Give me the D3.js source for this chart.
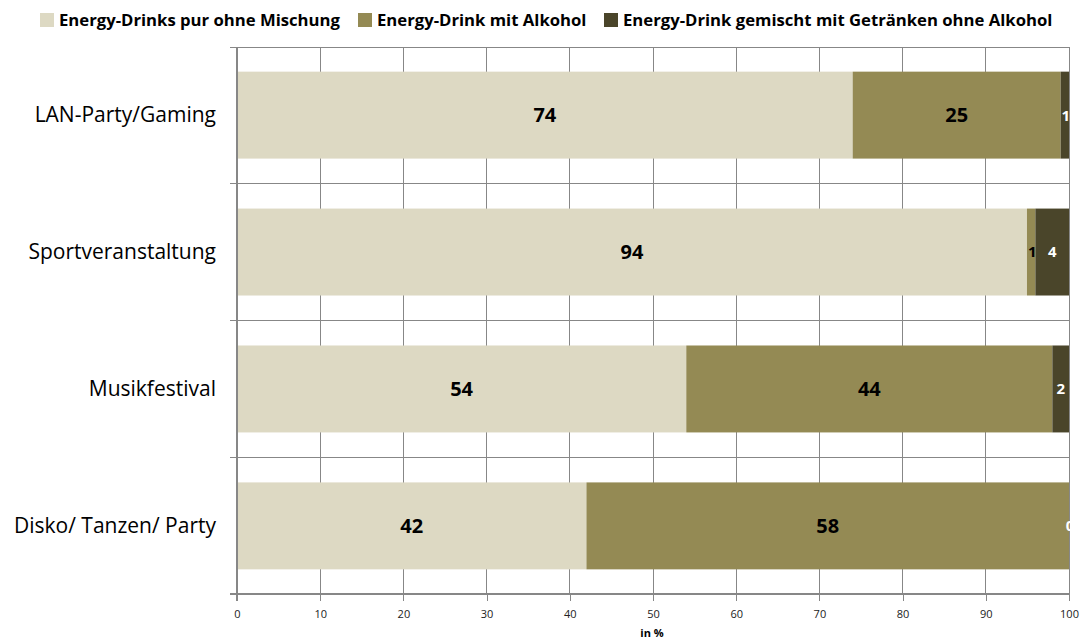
<!DOCTYPE html>
<html>
<head>
<meta charset="utf-8">
<script src="https://cdn.jsdelivr.net/npm/d3@7"></script>
<style>
  html, body { margin: 0; padding: 0; background: #fff; }
  svg { display: block; }
</style>
</head>
<body>
<svg id="chart" width="1082" height="643"></svg>
<script>
// Occasions on which energy drinks are consumed, share by way of drinking (in %)
const categories = ["LAN-Party/Gaming", "Sportveranstaltung", "Musikfestival", "Disko/ Tanzen/ Party"];
const seriesNames = [
  "Energy-Drinks pur ohne Mischung",
  "Energy-Drink mit Alkohol",
  "Energy-Drink gemischt mit Getränken ohne Alkohol"
];
const purValues = [74, 94, 54, 42];
const alkoholValues = [25, 1, 44, 58];
const ohneAlkoholValues = [1, 4, 2, 0];
const xTicks = [0, 10, 20, 30, 40, 50, 60, 70, 80, 90, 100];
const xTitle = "in %";

const colors = ["#DDD9C3", "#948A54", "#4A452A"];
const labelColors = ["#000", "#000", "#fff"];

const svg = d3.select("#chart");
const margin = { left: 237, right: 1069, top: 47, bottom: 594 };
const font = "'Open Sans', Lato, sans-serif";

// 100 % stacked: each bar is expanded to the full width
const x = d3.scaleLinear().domain([0, 100]).range([margin.left, margin.right]);
const xFrac = d3.scaleLinear().domain([0, 1]).range([margin.left, margin.right]);
const y = d3.scaleBand().domain(categories).range([margin.top, margin.bottom])
  .paddingInner(0.365).paddingOuter(0.18);
const yFull = d3.scaleBand().domain(categories).range([margin.top, margin.bottom]);

const rows = categories.map((c, i) => ({
  cat: c, s0: purValues[i], s1: alkoholValues[i], s2: ohneAlkoholValues[i]
}));
const keys = ["s0", "s1", "s2"];
const layers = d3.stack().keys(keys).offset(d3.stackOffsetExpand)(rows);

const gridColor = "#878787";

// vertical gridlines
svg.append("g").selectAll("line").data(xTicks).join("line")
  .attr("x1", d => x(d)).attr("x2", d => x(d))
  .attr("y1", margin.top).attr("y2", margin.bottom)
  .attr("stroke", gridColor).attr("stroke-width", 1)
  .attr("shape-rendering", "crispEdges");

// horizontal lines at category boundaries
const boundaries = categories.map(c => yFull(c)).concat([margin.bottom]);
svg.append("g").selectAll("line").data(boundaries).join("line")
  .attr("x1", margin.left - 7).attr("x2", margin.right)
  .attr("y1", d => d).attr("y2", d => d)
  .attr("stroke", gridColor).attr("stroke-width", 1)
  .attr("shape-rendering", "crispEdges");

svg.append("defs").append("clipPath").attr("id", "plotClip")
  .append("rect").attr("x", margin.left).attr("y", margin.top)
  .attr("width", margin.right - margin.left + 2).attr("height", margin.bottom - margin.top);

const barsG = svg.append("g").attr("clip-path", "url(#plotClip)");
layers.forEach((layer, li) => {
  barsG.append("g").selectAll("rect").data(layer).join("rect")
    .attr("x", d => xFrac(d[0]))
    .attr("y", d => y(d.data.cat))
    .attr("width", d => xFrac(d[1]) - xFrac(d[0]))
    .attr("height", y.bandwidth())
    .attr("fill", colors[li]);
});

// y axis line
svg.append("line")
  .attr("x1", margin.left).attr("x2", margin.left)
  .attr("y1", margin.top).attr("y2", margin.bottom + 7)
  .attr("stroke", gridColor).attr("stroke-width", 2)
  .attr("shape-rendering", "crispEdges");

// value labels show the raw values
layers.forEach((layer, li) => {
  const key = keys[li];
  barsG.append("g").selectAll("text").data(layer).join("text")
    .attr("x", d => (xFrac(d[0]) + xFrac(d[1])) / 2 + (d.data[key] < 2 ? 1 : 0))
    .attr("y", d => y(d.data.cat) + y.bandwidth() / 2)
    .attr("dy", "0.36em")
    .attr("text-anchor", "middle")
    .attr("font-family", font)
    .attr("font-weight", "bold")
    .attr("font-size", d => (d.data[key] < 5 ? 15 : 20))
    .attr("fill", labelColors[li])
    .text(d => d.data[key]);
});

// category labels
svg.append("g").selectAll("text").data(categories).join("text")
  .attr("x", 216)
  .attr("y", d => y(d) + y.bandwidth() / 2)
  .attr("dy", "0.35em")
  .attr("text-anchor", "end")
  .attr("font-family", font)
  .attr("font-size", 21)
  .attr("fill", "#000")
  .text(d => d);

// x axis
const xAxis = d3.axisBottom(x).tickValues(xTicks).tickSize(7).tickPadding(9);
const xg = svg.append("g").attr("transform", `translate(0,${margin.bottom})`).call(xAxis);
xg.select(".domain").attr("stroke", gridColor).attr("stroke-width", 2)
  .attr("d", `M${margin.left - 7},0H${margin.right}`);
xg.selectAll(".tick line").attr("stroke", gridColor).attr("stroke-width", 1)
  .attr("shape-rendering", "crispEdges");
xg.selectAll(".tick text").attr("font-family", font).attr("font-size", 11).attr("fill", "#222");

svg.append("text")
  .attr("x", 652)
  .attr("y", 637)
  .attr("text-anchor", "middle")
  .attr("font-family", font).attr("font-weight", "bold").attr("font-size", 11)
  .text(xTitle);

// legend
const legendX = [40, 358, 604];
const legend = svg.append("g").selectAll("g").data(seriesNames).join("g")
  .attr("transform", (d, i) => `translate(${legendX[i]},0)`);
legend.append("rect").attr("x", 0).attr("y", 13).attr("width", 14).attr("height", 14)
  .attr("fill", (d, i) => colors[i]);
legend.append("text").attr("x", 19).attr("y", 20).attr("dy", "0.35em")
  .attr("font-family", font).attr("font-weight", "bold").attr("font-size", 16.7)
  .text(d => d);
</script>
</body>
</html>
